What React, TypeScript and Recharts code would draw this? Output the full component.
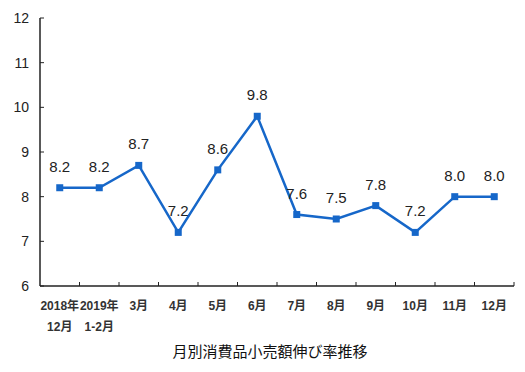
import React from "react";
import {
  LineChart,
  Line,
  XAxis,
  YAxis,
  LabelList,
} from "recharts";

const months = [
  "2018年\n12月",
  "2019年\n1-2月",
  "3月",
  "4月",
  "5月",
  "6月",
  "7月",
  "8月",
  "9月",
  "10月",
  "11月",
  "12月",
];
const growth = [8.2, 8.2, 8.7, 7.2, 8.6, 9.8, 7.6, 7.5, 7.8, 7.2, 8.0, 8.0];
const yTicks = [6, 7, 8, 9, 10, 11, 12];
const title = "月別消費品小売額伸び率推移";

const data = months.map((m, i) => ({ month: m, value: growth[i] }));

const BLUE = "#1667C9";
const tickFont = "'Liberation Sans Narrow', 'Liberation Sans', 'Noto Sans CJK JP', sans-serif";
const half = 19.75;

function YTick(props: any) {
  const { x, y, payload } = props;
  return (
    <g>
      <line x1={x + 10} x2={x + 14} y1={y} y2={y} stroke="#222" />
      <text x={x - 1} y={y} dy={5} textAnchor="end" fontSize={14} fill="#222" fontFamily={tickFont}>
        {payload.value}
      </text>
    </g>
  );
}

function XTick(props: any) {
  const { x, y, payload } = props;
  const lines = String(payload.value).split("\n");
  return (
    <g>
      <line x1={x + half} x2={x + half} y1={y - 14} y2={y - 10} stroke="#222" />
      {lines.map((t, i) => (
        <text
          key={i}
          x={x}
          y={y + 14 + i * 21}
          textAnchor="middle"
          fontSize={12}
          fontWeight="bold"
          fill="#333"
          fontFamily={tickFont}
        >
          {t}
        </text>
      ))}
    </g>
  );
}

function SquareDot(props: any) {
  const { cx, cy } = props;
  return <rect x={cx - 3.5} y={cy - 3.5} width={7} height={7} fill={BLUE} />;
}

export default function App() {
  return (
    <div
      style={{
        position: "absolute",
        left: 0,
        top: 0,
        width: 525,
        height: 372,
        background: "#fff",
      }}
    >
      <LineChart
        width={525}
        height={372}
        data={data}
        margin={{ top: 18, right: 11, left: 0, bottom: 36 }}
      >
        <XAxis
          dataKey="month"
          interval={0}
          padding={{ left: half, right: half }}
          axisLine={{ stroke: "#222", strokeWidth: 1.5 }}
          tickLine={false}
          tickSize={0}
          tickMargin={10}
          height={50}
          tick={<XTick />}
        />
        <XAxis
          xAxisId="top"
          orientation="top"
          dataKey="month"
          height={0}
          tick={false}
          tickLine={false}
          axisLine={{ stroke: "#b0b0b0", strokeWidth: 1.5 }}
        />
        <YAxis
          domain={[6, 12]}
          ticks={yTicks}
          width={40}
          axisLine={{ stroke: "#222", strokeWidth: 1.5 }}
          tickLine={false}
          tickSize={0}
          tickMargin={10}
          tick={<YTick />}
        />
        <YAxis
          yAxisId="right"
          orientation="right"
          domain={[6, 12]}
          width={0}
          tick={false}
          tickLine={false}
          axisLine={{ stroke: "#b0b0b0", strokeWidth: 1.5 }}
        />
        <Line
          type="linear"
          dataKey="value"
          stroke={BLUE}
          strokeWidth={2.5}
          dot={<SquareDot />}
          activeDot={false}
          isAnimationActive={false}
        >
          <LabelList
            dataKey="value"
            position="top"
            offset={16}
            formatter={(v: any) => Number(v).toFixed(1)}
            style={{ fontSize: 15, fill: "#222", fontFamily: tickFont }}
          />
        </Line>
      </LineChart>
      <div
        style={{
          position: "absolute",
          left: 0,
          width: 540,
          top: 340,
          textAlign: "center",
          fontSize: 15,
          color: "#111",
          fontFamily: "'Noto Sans CJK JP', sans-serif",
        }}
      >
        {title}
      </div>
    </div>
  );
}
